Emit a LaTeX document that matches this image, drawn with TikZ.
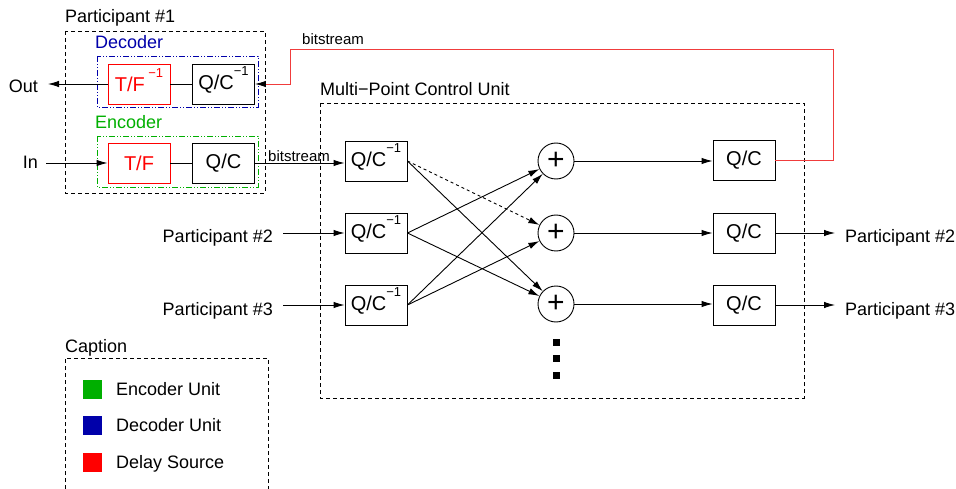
\documentclass[tikz,border=0pt]{standalone}
\usepackage{fontspec}
\setmainfont{Liberation Sans}
\usetikzlibrary{arrows.meta,calc}
\definecolor{encgreen}{RGB}{0,175,0}
\definecolor{decblue}{RGB}{0,0,170}
\definecolor{delayred}{RGB}{255,0,0}
\definecolor{linkred}{RGB}{240,60,60}
\newcommand{\lblfont}{\fontsize{18}{20}\selectfont}
\newcommand{\boxfont}{\fontsize{20}{22}\selectfont}
\newcommand{\smallfont}{\fontsize{15}{17}\selectfont}
\newcommand{\inv}{\smash{\raisebox{14pt}{\fontsize{13}{13}\selectfont −1}}}
\tikzset{
  blk/.style={draw, line width=0.9pt, minimum width=62pt, minimum height=40pt, inner sep=0pt, font=\boxfont},
  redblk/.style={blk, draw=delayred, text=delayred},
  sumnode/.style={draw, circle, line width=0.9pt, minimum size=36pt, inner sep=0pt, font=\fontsize{30}{30}\selectfont},
  lbl/.style={inner sep=0pt, anchor=base west, font=\lblfont},
  conn/.style={line width=0.9pt},
  arr/.style={conn, -{Latex[length=11pt,width=6.5pt]}},
  group/.style={draw, line width=0.9pt, dash pattern=on 4pt off 3pt},
  grpdec/.style={draw=decblue, line width=0.9pt, dash pattern=on 6pt off 2pt on 1pt off 2pt on 1pt off 2pt},
  grpenc/.style={draw=encgreen, line width=0.9pt, dash pattern=on 6pt off 2pt on 1pt off 2pt on 1pt off 2pt},
  dotsq/.style={fill, minimum size=7pt, inner sep=0pt},
  legsq/.style={minimum size=19pt, inner sep=0pt},
}
\begin{document}
\begin{tikzpicture}[x=1pt,y=-1pt]
\useasboundingbox (0,0) rectangle (956,489);

% ---- Participant #1 ----
\draw[group] (65,31) rectangle (265,193);
\node[lbl] (p1lbl) at (65,23) {Participant \#1};
\draw[grpdec] (97,56) rectangle (258,107);
\node[lbl, text=decblue] (declbl) at (95,49) {Decoder};
\draw[grpenc] (97,136) rectangle (258,187);
\node[lbl, text=encgreen] (enclbl) at (95,129) {Encoder};

\node[redblk] (tfi) at (139,84) {T/F\,\inv};
\node[blk] (qci) at (223.5,84) {Q/C\inv};
\node[redblk] (tf) at (139,163) {T/F};
\node[blk] (qc) at (223.5,163) {Q/C};

\node[lbl, anchor=base east] (out) at (38,93) {Out};
\node[lbl, anchor=base east] (in) at (38,169) {In};
\coordinate (outend) at (48,84);
\coordinate (instart) at (46,163);

\draw[conn] (tfi) -- (qci);
\draw[conn] (tf) -- (qc);
\draw[arr] (tfi.west) -- (outend);
\draw[arr] (instart) -- (tf.west);

% ---- MCU ----
\draw[group] (320,103) rectangle (804,398);
\node[lbl] (mculbl) at (320,96) {Multi−Point Control Unit};

\node[blk] (mi1) at (376,161) {Q/C\inv};
\node[blk] (mi2) at (376,233) {Q/C\inv};
\node[blk] (mi3) at (376,305) {Q/C\inv};

\node[sumnode] (s1) at (556,161) {+};
\node[sumnode] (s2) at (556,233) {+};
\node[sumnode] (s3) at (556,304) {+};

\node[blk] (qo1) at (744,160) {Q/C};
\node[blk] (qo2) at (744,233) {Q/C};
\node[blk] (qo3) at (744,305) {Q/C};

\draw[arr] (qc.east) -- (mi1.west |- qc.east);
\node[inner sep=0pt, anchor=base west, font=\smallfont] (bs2) at (268,162) {bitstream};

\node[lbl, anchor=base east] (in2) at (273,243) {Participant \#2};
\node[lbl, anchor=base east] (in3) at (273,315) {Participant \#3};
\coordinate (in2s) at (283,233);
\coordinate (in3s) at (283,305);
\draw[arr] (in2s) -- (mi2.west);
\draw[arr] (in3s) -- (mi3.west);

\draw[arr, dashed] (mi1.east) -- (s2);
\draw[arr] (mi1.east) -- (s3);
\draw[arr] (mi2.east) -- (s1);
\draw[arr] (mi2.east) -- (s3);
\draw[arr] (mi3.east) -- (s1);
\draw[arr] (mi3.east) -- (s2);

\draw[arr] (s1) -- (qo1.west |- s1);
\draw[arr] (s2) -- (qo2);
\draw[arr] (s3) -- (qo3.west |- s3);

\node[lbl] (out2) at (845,243) {Participant \#2};
\node[lbl] (out3) at (845,315) {Participant \#3};
\coordinate (o2e) at (835,233);
\coordinate (o3e) at (835,305);
\draw[arr] (qo2.east) -- (o2e);
\draw[arr] (qo3.east) -- (o3e);

\node[dotsq] (d1) at (556,342) {};
\node[dotsq] (d2) at (556,358) {};
\node[dotsq] (d3) at (556,375) {};

% ---- feedback bitstream ----
\coordinate (r1) at (833,49);
\coordinate (r2) at (290,49);
\draw[conn, draw=linkred, -{Latex[length=11pt,width=6.5pt,color=black]}] (qo1.east) -| (r1) -- (r2) |- (qci.east);
\node[inner sep=0pt, anchor=base west, font=\smallfont] (bs1) at (302,45) {bitstream};

% ---- Caption ----
\node[lbl] (caplbl) at (65,352) {Caption};
\draw[group] (65,489) -- (65,358) -- (268,358) -- (268,489);
\node[legsq, fill=encgreen] (lg1) at (92,389) {};
\node[legsq, fill=decblue] (lg2) at (92,425) {};
\node[legsq, fill=delayred] (lg3) at (92,462) {};
\node[lbl] (lt1) at (116,395) {Encoder Unit};
\node[lbl] (lt2) at (116,431) {Decoder Unit};
\node[lbl] (lt3) at (116,468) {Delay Source};
\end{tikzpicture}
\end{document}
